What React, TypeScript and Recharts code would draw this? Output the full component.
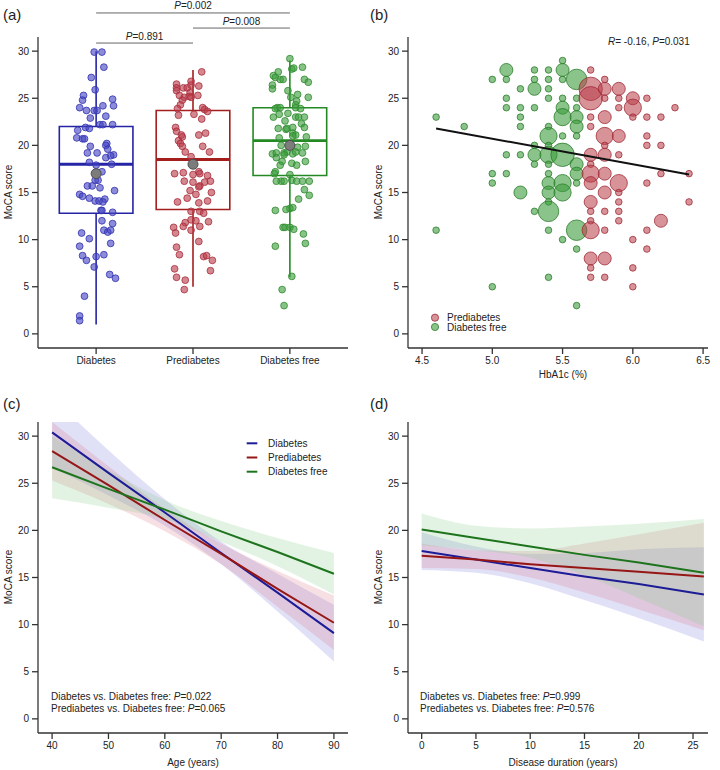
import React from 'react'
import {
  ComposedChart,
  XAxis,
  YAxis,
  ZAxis,
  Scatter,
  Line,
  Area,
  ReferenceArea,
  ReferenceLine,
} from 'recharts'

const FONT = '"Liberation Sans", Arial, Helvetica, sans-serif'
const INK = '#222'

// ---- shared
const GROUPS = ['Diabetes', 'Prediabetes', 'Diabetes free']
const LINE_COLORS = ['#1c1c96', '#961616', '#1d741d']
const BOX_COLORS = ['#2424a4', '#a41e1e', '#238a23']
const DOT_FILL = ['#4646c4', '#bc3e4c', '#3e9e3e']
const DOT_STROKE = ['#3434b0', '#a82e3c', '#2e8a2e']
const BAND_FILL = ['#7c7cde', '#dc7c90', '#8ccc8c']
const Y_TICKS = [0, 5, 10, 15, 20, 25, 30]

// ---- (a) box plot
const boxMin = [1, 5, 6]
const boxQ1 = [12.8, 13.2, 16.8]
const boxMedian = [18, 18.5, 20.5]
const boxQ3 = [22, 23.7, 24]
const boxMax = [30, 28, 29]
const groupMean = [17, 18, 20]

// [jitter offset, MoCA]
const diabetesPts = [
  [-0.02, 29.9], [0.06, 29.9], [0.08, 28.3], [-0.05, 27.2], [-0.01, 25.9], [-0.13, 25.3], [-0.14, 24.8],
  [0.17, 24.9], [-0.17, 24.0], [0.07, 24.2], [0.18, 24.2], [-0.1, 23.7], [-0.02, 23.7], [0.01, 23.7],
  [0.1, 23.1], [-0.06, 22.9], [0.04, 22.2], [0.07, 22.2], [0.17, 22.2], [-0.11, 21.9], [-0.07, 21.8],
  [-0.19, 21.6], [-0.2, 20.8], [-0.14, 20.7], [-0.12, 20.7], [0.11, 20.2], [0.1, 20.0], [-0.06, 19.9],
  [0.12, 19.6], [-0.09, 19.2], [0.01, 19.2], [0.18, 19.0], [0.15, 18.9], [0.1, 18.7], [-0.07, 18.2],
  [0, 17.9], [0.16, 18.0], [0.06, 17.2], [0.02, 16.3], [-0.01, 16.3], [-0.09, 15.7], [-0.04, 15.7],
  [0.04, 15.5], [0.19, 15.2], [-0.17, 14.8], [-0.14, 14.6], [-0.07, 14.4], [-0.01, 14.1], [0.03, 14.1],
  [0.09, 14.3], [0.07, 14.0], [0.05, 13.1], [0.06, 13.1], [0.17, 12.9], [0.06, 12.0], [0.17, 11.7],
  [0.08, 11.0], [0.12, 10.8], [0.15, 11.0], [-0.15, 10.7], [-0.07, 10.1], [0.15, 9.6], [-0.17, 9.3],
  [-0.14, 8.3], [0, 8.2], [0.08, 8.4], [-0.1, 7.8], [-0.02, 7.1], [0.14, 6.3], [0.2, 5.9],
  [-0.12, 4.0], [-0.17, 1.9], [-0.17, 1.4],
]
const prediabetesPts = [
  [0.09, 27.8], [-0.02, 26.8], [-0.17, 26.5], [-0.17, 26.1], [-0.1, 26.1], [-0.06, 26.1], [-0.02, 26.4],
  [0.06, 26.3], [-0.17, 25.8], [-0.03, 25.6], [-0.14, 25.3], [-0.09, 25.1], [-0.04, 25.2], [-0.02, 25.1],
  [0.05, 25.3], [-0.11, 24.8], [-0.13, 24.3], [-0.16, 23.9], [0.1, 24.0], [0.12, 23.8], [0.15, 23.6],
  [-0.15, 23.2], [0.01, 23.3], [0.09, 22.8], [-0.18, 21.9], [-0.17, 21.5], [0.13, 21.3], [-0.12, 21.1],
  [-0.11, 20.9], [0.06, 21.1], [-0.15, 20.5], [-0.13, 20.2], [-0.11, 19.9], [0.1, 19.9], [-0.08, 19.3],
  [0.17, 19.3], [-0.02, 18.8], [-0.19, 17.0], [-0.1, 17.1], [0.06, 17.2], [0.07, 17.0], [0, 16.9],
  [0.15, 16.8], [-0.09, 16.2], [0, 16.1], [0.12, 16.1], [0.18, 16.2], [0.07, 15.7], [0.06, 15.6],
  [-0.03, 15.2], [0.19, 15.0], [0.03, 14.8], [-0.16, 14.0], [-0.06, 14.4], [0.06, 13.9], [0.15, 14.1],
  [-0.02, 13.0], [0.07, 13.0], [0.11, 12.8], [-0.08, 11.8], [-0.02, 12.1], [0.03, 12.0], [0.16, 11.9],
  [-0.2, 11.3], [-0.1, 11.4], [0.07, 11.4], [-0.18, 10.7], [-0.02, 11.0], [0.06, 9.8], [-0.17, 9.2],
  [-0.14, 8.4], [0.11, 8.2], [0.14, 8.3], [0.2, 7.8], [-0.19, 6.9], [0.18, 6.7], [-0.17, 6.0],
  [-0.08, 5.7], [-0.09, 4.7],
]
const freePts = [
  [0, 29.2], [0.13, 28.3], [0.02, 28.1], [0.04, 28.2], [-0.12, 27.8], [-0.17, 27.4], [-0.15, 27.2],
  [-0.1, 27.0], [-0.07, 27.0], [0.15, 27.0], [0.19, 26.7], [-0.18, 26.4], [-0.18, 26.0], [-0.02, 25.8],
  [0.08, 25.4], [0.19, 25.1], [0.01, 25.1], [0.07, 24.7], [0.06, 24.3], [-0.13, 24.0], [-0.15, 23.9],
  [-0.1, 24.0], [0.06, 24.0], [0.11, 23.9], [-0.02, 23.4], [-0.11, 23.3], [0.06, 23.0], [0.09, 23.0],
  [0.15, 23.0], [-0.17, 23.0], [-0.05, 22.6], [0.12, 22.3], [-0.12, 21.8], [-0.04, 21.7], [-0.03, 21.8],
  [0.03, 21.9], [0.15, 21.9], [0.03, 21.3], [0.06, 21.1], [-0.11, 20.8], [0.03, 21.0], [0.17, 20.9],
  [-0.09, 20.0], [0.08, 19.8], [0.16, 19.9], [-0.18, 19.1], [-0.14, 19.2], [-0.06, 19.2], [-0.03, 19.3],
  [0.03, 19.1], [0.06, 19.3], [0.13, 19.2], [-0.06, 19.0], [-0.14, 18.7], [-0.08, 18.3], [0.02, 18.1],
  [0.07, 17.9], [0.16, 18.3], [-0.1, 17.9], [-0.15, 17.2], [-0.16, 17.0], [0, 16.9], [-0.09, 16.2],
  [-0.14, 16.2], [-0.06, 16.2], [0.02, 16.3], [0.07, 16.2], [0.13, 16.2], [0.2, 16.2], [0.15, 15.3],
  [0.2, 14.7], [0.09, 14.3], [0, 13.3], [-0.04, 13.2], [0.03, 13.4], [-0.15, 13.1], [-0.07, 11.3],
  [-0.05, 11.3], [0, 11.3], [0.04, 11.1], [0.14, 10.6], [0.16, 9.6], [-0.15, 9.3], [0.02, 6.1],
  [-0.08, 4.7], [-0.06, 3.0],
]
const groupPts = [diabetesPts, prediabetesPts, freePts]

// pairwise comparisons drawn above the boxes
const comparisons = [
  { a: 1, b: 3, level: 34.05, p: '0.002' },
  { a: 2, b: 3, level: 32.45, p: '0.008' },
  { a: 1, b: 2, level: 30.86, p: '0.891' },
]

// ---- (b) bubbles: [HbA1c, MoCA, size class]
const freeBubbles = [
  [4.6, 23, 1], [4.8, 22, 1], [5.0, 27, 1], [5.1, 28, 2], [5.1, 27, 1], [5.2, 26, 1], [5.1, 25, 1],
  [5.1, 24, 1], [5.2, 24, 1], [5.3, 24, 1], [5.3, 28, 1], [5.3, 27, 1], [5.3, 26, 2], [5.4, 28, 1],
  [5.4, 27, 1], [5.4, 26, 1], [5.4, 25, 1], [5.5, 29, 1], [5.5, 28, 2], [5.5, 27, 1], [5.5, 25, 1],
  [5.6, 27, 4], [5.6, 25, 1], [5.5, 24, 2], [5.6, 24, 1], [5.2, 23, 1], [5.2, 22, 1], [5.5, 23, 3],
  [5.6, 23, 2], [5.6, 22, 2], [5.4, 22, 1], [5.5, 21, 1], [5.6, 21, 1], [5.4, 21, 3], [5.3, 20, 1],
  [5.4, 20, 1], [5.1, 19, 1], [5.2, 19, 1], [5.3, 19, 2], [5.4, 19, 3], [5.5, 19, 5], [5.3, 18, 1],
  [5.4, 18, 1], [5.6, 18, 2], [5.6, 17, 2], [5.0, 17, 1], [5.1, 17, 1], [5.4, 17, 1], [5.0, 16, 1],
  [5.4, 16, 2], [5.5, 16, 3], [5.6, 16, 1], [5.2, 15, 2], [5.4, 15, 2], [5.5, 15, 3], [5.4, 14, 1],
  [5.3, 13, 1], [5.4, 13, 4], [4.6, 11, 1], [5.4, 11, 1], [5.6, 11, 4], [5.5, 10, 1], [5.6, 9, 1],
  [5.4, 6, 1], [5.0, 5, 1], [5.6, 3, 1],
]
const preBubbles = [
  [5.7, 28, 1], [5.8, 27, 1], [5.7, 26, 5], [5.7, 25, 5], [5.8, 26, 2], [5.9, 26, 2], [5.8, 25, 1],
  [5.9, 25, 1], [6.0, 25, 2], [6.1, 25, 1], [5.9, 24, 1], [6.0, 24, 3], [6.3, 24, 1], [5.7, 23, 1],
  [5.8, 23, 2], [6.0, 23, 1], [6.1, 23, 1], [6.2, 23, 1], [5.7, 22, 1], [5.8, 21, 3], [5.9, 21, 2],
  [6.1, 21, 1], [5.8, 20, 1], [6.1, 20, 1], [6.2, 20, 1], [5.7, 19, 2], [5.8, 19, 2], [5.9, 19, 1],
  [5.7, 18, 1], [5.7, 17, 3], [5.8, 17, 2], [6.2, 17, 1], [6.4, 17, 1], [5.7, 16, 2], [5.9, 16, 3],
  [6.1, 16, 1], [5.8, 15, 2], [5.9, 15, 1], [5.7, 14, 2], [5.9, 14, 1], [6.4, 14, 1], [5.7, 13, 1],
  [5.8, 13, 1], [5.9, 13, 1], [5.7, 12, 1], [5.9, 12, 1], [6.2, 12, 2], [5.7, 11, 3], [5.8, 11, 1],
  [6.1, 11, 1], [6.0, 10, 1], [6.1, 9, 1], [5.7, 8, 2], [5.8, 8, 2], [5.7, 7, 1], [6.0, 7, 1],
  [5.7, 6, 1], [5.8, 6, 1], [6.0, 5, 1],
]
const fitX = [4.6, 6.4]
const fitY = [21.8, 16.9]
const HBA_TICKS = [4.5, 5.0, 5.5, 6.0, 6.5]

// ---- (c) MoCA vs age, fitted lines with 95% CI
const AGES = [40, 50, 60, 70, 80, 90]
const ageFit = [
  [30.4, 26.1, 21.9, 17.6, 13.4, 9.1],
  [28.4, 24.8, 21.1, 17.5, 13.8, 10.2],
  [26.7, 24.4, 22.2, 19.9, 17.7, 15.4],
]
const ageLo = [
  [26.7, 23.7, 20.5, 16.4, 11.4, 6.1],
  [25.3, 22.8, 19.9, 16.4, 11.9, 7.3],
  [23.4, 22.4, 21.2, 18.8, 16.2, 13.2],
]
const ageHi = [
  [34.1, 28.5, 23.3, 18.8, 15.4, 12.1],
  [31.5, 26.8, 22.3, 18.6, 15.7, 13.1],
  [30.0, 26.4, 23.2, 21.0, 19.2, 17.6],
]

// ---- (d) MoCA vs disease duration
const DURATIONS = [0, 5, 10, 15, 20, 26]
const durFit = [
  [17.8, 16.9, 16.0, 15.1, 14.3, 13.2],
  [17.3, 16.9, 16.4, 16.0, 15.6, 15.1],
  [20.1, 19.2, 18.3, 17.4, 16.6, 15.5],
]
const durLo = [
  [15.8, 15.5, 14.4, 12.6, 10.7, 8.2],
  [16.0, 15.9, 15.0, 13.4, 11.6, 9.4],
  [18.4, 17.9, 17.1, 15.2, 12.8, 9.8],
]
const durHi = [
  [19.8, 18.3, 17.5, 17.6, 18.0, 18.2],
  [18.6, 17.9, 17.8, 18.6, 19.6, 20.8],
  [21.8, 20.5, 20.2, 20.4, 20.7, 21.2],
]

const KEYS = ['d', 'p', 'f']

const ageRows = AGES.map((age, i) => {
  const row: any = { x: age }
  KEYS.forEach((k, g) => {
    row[k] = ageFit[g][i]
    row[k + 'CI'] = [ageLo[g][i], ageHi[g][i]]
  })
  return row
})
const durRows = DURATIONS.map((dur, i) => {
  const row: any = { x: dur }
  KEYS.forEach((k, g) => {
    row[k] = durFit[g][i]
    row[k + 'CI'] = [durLo[g][i], durHi[g][i]]
  })
  return row
})

const W = 360
const H = 385
const MARGIN = { top: 37, right: 12, bottom: 0, left: 0 }

const axisStyle = {
  tick: { fontSize: 10, fill: INK, fontFamily: FONT },
  tickSize: 6,
  tickMargin: 3,
  axisLine: { stroke: '#333', strokeWidth: 1.3 },
  tickLine: { stroke: '#333', strokeWidth: 1.3 },
}

function YAx({ width }: { width: number }) {
  return null as any
}

function Txt({ x, y, anchor = 'start', size = 10, rotate = false, children }: any) {
  const transform = rotate
    ? 'translate(-50%,-50%) rotate(-90deg)'
    : anchor === 'middle'
      ? 'translate(-50%,-50%)'
      : 'translate(0,-50%)'
  return (
    <div
      style={{
        position: 'absolute',
        left: x,
        top: y,
        fontSize: size,
        lineHeight: `${size}px`,
        whiteSpace: 'nowrap',
        transform,
      }}
    >
      {children}
    </div>
  )
}

const I = ({ children }: any) => <i>{children}</i>

function BracketText(props: any) {
  const vb = props.viewBox || {}
  const x = (vb.x ?? 0) + (vb.width ?? 0) / 2
  const y = (vb.y ?? 0) - 3.5
  return (
    <text x={x} y={y} textAnchor="middle" fontSize={10} fontFamily={FONT} fill={INK}>
      <tspan fontStyle="italic">P</tspan>={props.p}
    </text>
  )
}

function Box() {
  return (
    <ComposedChart width={W} height={H} margin={MARGIN}>
      <XAxis
        type="number"
        dataKey="x"
        domain={[0.4, 3.6]}
        ticks={[1, 2, 3]}
        interval={0}
        tickFormatter={(v: number) => GROUPS[Math.round(v) - 1]}
        height={37}
        allowDataOverflow
        {...axisStyle}
      />
      <YAxis
        type="number"
        dataKey="y"
        domain={[-1.5, 31.5]}
        ticks={Y_TICKS}
        width={38}
        allowDataOverflow
        {...axisStyle}
      />
      {comparisons.map((c) => (
        <ReferenceLine
          key={c.p}
          segment={[{ x: c.a, y: c.level }, { x: c.b, y: c.level }]}
          stroke="#666"
          strokeWidth={1}
          ifOverflow="visible"
          label={(lp: any) => <BracketText {...lp} p={c.p} />}
        />
      ))}
      {GROUPS.map((g, i) => (
        <ReferenceLine
          key={g + 'lo'}
          segment={[{ x: i + 1, y: boxMin[i] }, { x: i + 1, y: boxQ1[i] }]}
          stroke={BOX_COLORS[i]}
          strokeWidth={1.6}
        />
      ))}
      {GROUPS.map((g, i) => (
        <ReferenceLine
          key={g + 'hi'}
          segment={[{ x: i + 1, y: boxQ3[i] }, { x: i + 1, y: boxMax[i] }]}
          stroke={BOX_COLORS[i]}
          strokeWidth={1.6}
        />
      ))}
      {GROUPS.map((g, i) => (
        <ReferenceArea
          key={g + 'box'}
          x1={i + 1 - 0.38}
          x2={i + 1 + 0.38}
          y1={boxQ1[i]}
          y2={boxQ3[i]}
          fill="#fff"
          fillOpacity={0}
          stroke={BOX_COLORS[i]}
          strokeWidth={1.6}
        />
      ))}
      {GROUPS.map((g, i) => (
        <ReferenceLine
          key={g + 'med'}
          segment={[{ x: i + 1 - 0.38, y: boxMedian[i] }, { x: i + 1 + 0.38, y: boxMedian[i] }]}
          stroke={BOX_COLORS[i]}
          strokeWidth={2.8}
        />
      ))}
      {groupPts.map((pts, i) => (
        <Scatter
          key={GROUPS[i]}
          data={pts.map(([dx, y]) => ({ x: i + 1 + dx, y }))}
          isAnimationActive={false}
          shape={(p: any) => (
            <circle
              cx={p.cx}
              cy={p.cy}
              r={3.4}
              fill={DOT_FILL[i]}
              fillOpacity={0.62}
              stroke={DOT_STROKE[i]}
              strokeWidth={0.8}
            />
          )}
        />
      ))}
      <Scatter
        data={groupMean.map((m, i) => ({ x: i + 1, y: m }))}
        isAnimationActive={false}
        shape={(p: any) => (
          <circle cx={p.cx} cy={p.cy} r={5} fill="#7c7c7c" stroke="#4c4c4c" strokeWidth={1} />
        )}
      />
    </ComposedChart>
  )
}

function Bubbles() {
  const toObj = (b: number[]) => ({ x: b[0], y: b[1], n: b[2] })
  return (
    <ComposedChart width={W} height={H} margin={MARGIN}>
      <XAxis
        type="number"
        dataKey="x"
        domain={[4.4, 6.535]}
        ticks={HBA_TICKS}
        interval={0}
        tickFormatter={(v: number) => v.toFixed(1)}
        height={37}
        allowDataOverflow
        {...axisStyle}
      />
      <YAxis
        type="number"
        dataKey="y"
        domain={[-1.5, 31.5]}
        ticks={Y_TICKS}
        width={48}
        allowDataOverflow
        {...axisStyle}
      />
      <ZAxis type="number" dataKey="n" domain={[1, 5]} range={[34, 430]} />
      <Scatter
        data={freeBubbles.map(toObj)}
        fill="#3c9c3c"
        fillOpacity={0.6}
        stroke="#2c7c2c"
        strokeWidth={0.8}
        isAnimationActive={false}
      />
      <Scatter
        data={preBubbles.map(toObj)}
        fill="#b83a46"
        fillOpacity={0.55}
        stroke="#a02c38"
        strokeWidth={0.8}
        isAnimationActive={false}
      />
      <Scatter
        data={fitX.map((x, i) => ({ x, y: fitY[i], n: 1 }))}
        line={{ stroke: '#111', strokeWidth: 2 }}
        shape={() => <g />}
        isAnimationActive={false}
      />
    </ComposedChart>
  )
}

function Fits({ rows, domain, ticks }: any) {
  return (
    <ComposedChart width={W} height={H} margin={MARGIN} data={rows}>
      <XAxis
        type="number"
        dataKey="x"
        domain={domain}
        ticks={ticks}
        interval={0}
        height={37}
        allowDataOverflow
        {...axisStyle}
      />
      <YAxis
        type="number"
        domain={[-1.5, 31.5]}
        ticks={Y_TICKS}
        width={rows === ageRows ? 38 : 48}
        allowDataOverflow
        {...axisStyle}
      />
      {KEYS.map((k, g) => (
        <Area
          key={k + 'CI'}
          dataKey={k + 'CI'}
          type="monotone"
          stroke="none"
          fill={BAND_FILL[g]}
          fillOpacity={0.24}
          dot={false}
          activeDot={false}
          isAnimationActive={false}
        />
      ))}
      {KEYS.map((k, g) => (
        <Line
          key={k}
          dataKey={k}
          type="linear"
          stroke={LINE_COLORS[g]}
          strokeWidth={2}
          dot={false}
          activeDot={false}
          isAnimationActive={false}
        />
      ))}
    </ComposedChart>
  )
}

export default function App() {
  return (
    <div
      style={{
        position: 'absolute',
        left: 0,
        top: 0,
        width: 720,
        height: 770,
        background: '#fff',
        fontFamily: FONT,
        color: INK,
      }}
    >
      <div style={{ position: 'absolute', left: 0, top: 0 }}>
        <Box />
      </div>
      <div style={{ position: 'absolute', left: 360, top: 0 }}>
        <Bubbles />
      </div>
      <div style={{ position: 'absolute', left: 0, top: 385 }}>
        <Fits rows={ageRows} domain={[37.5, 92.5]} ticks={AGES} />
      </div>
      <div style={{ position: 'absolute', left: 360, top: 385 }}>
        <Fits rows={durRows} domain={[-1.26, 26.38]} ticks={[0, 5, 10, 15, 20, 25]} />
      </div>

      <Txt x={3} y={14} size={15}>(a)</Txt>
      <Txt x={370} y={14} size={15}>(b)</Txt>
      <Txt x={3} y={403} size={15}>(c)</Txt>
      <Txt x={370} y={403} size={15}>(d)</Txt>

      <Txt x={9} y={192} rotate>MoCA score</Txt>
      <Txt x={379} y={192} rotate>MoCA score</Txt>
      <Txt x={9} y={577} rotate>MoCA score</Txt>
      <Txt x={379} y={577} rotate>MoCA score</Txt>

      <Txt x={563} y={375} anchor="middle">HbA1c (%)</Txt>
      <Txt x={193} y={763} anchor="middle">Age (years)</Txt>
      <Txt x={563} y={763} anchor="middle">Disease duration (years)</Txt>

      <Txt x={608} y={42}>
        <I>R</I>= -0.16, <I>P</I>=0.031
      </Txt>

      {/* legend (b) */}
      <svg style={{ position: 'absolute', left: 430, top: 312 }} width={12} height={22}>
        <circle cx={5} cy={5.7} r={3.6} fill="#b83a46" fillOpacity={0.55} stroke="#a02c38" strokeWidth={0.8} />
        <circle cx={5} cy={15} r={3.6} fill="#3c9c3c" fillOpacity={0.6} stroke="#2c7c2c" strokeWidth={0.8} />
      </svg>
      <Txt x={447} y={318}>Prediabetes</Txt>
      <Txt x={447} y={327.5}>Diabetes free</Txt>

      {/* legend (c) */}
      <svg style={{ position: 'absolute', left: 246, top: 438 }} width={14} height={40}>
        {GROUPS.map((g, i) => (
          <line key={g} x1={0.7} x2={11.3} y1={5.3 + i * 14.2} y2={5.3 + i * 14.2} stroke={LINE_COLORS[i]} strokeWidth={2} />
        ))}
      </svg>
      {GROUPS.map((g, i) => (
        <Txt key={g} x={268} y={443.5 + i * 14.2}>{g}</Txt>
      ))}

      <Txt x={51} y={697}>Diabetes vs. Diabetes free: <I>P</I>=0.022</Txt>
      <Txt x={51} y={709}>Prediabetes vs. Diabetes free: <I>P</I>=0.065</Txt>
      <Txt x={420} y={697}>Diabetes vs. Diabetes free: <I>P</I>=0.999</Txt>
      <Txt x={420} y={709}>Prediabetes vs. Diabetes free: <I>P</I>=0.576</Txt>
    </div>
  )
}
